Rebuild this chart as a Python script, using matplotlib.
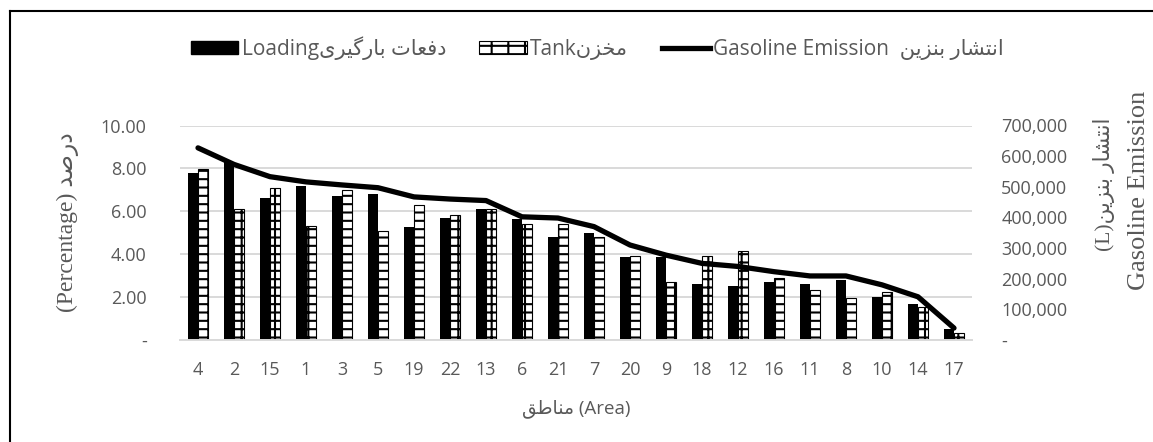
import numpy as np
import matplotlib
matplotlib.use('Agg')
import matplotlib.pyplot as plt
from matplotlib.patches import Patch
from matplotlib.lines import Line2D

plt.close('all')

# --- data ---
areas = ['4', '2', '15', '1', '3', '5', '19', '22', '13', '6', '21',
         '7', '20', '9', '18', '12', '16', '11', '8', '10', '14', '17']
loading = [7.8, 8.3, 6.6, 7.2, 6.7, 6.8, 5.25, 5.7, 6.1, 5.65, 4.8,
           5.0, 3.85, 3.85, 2.6, 2.5, 2.7, 2.6, 2.8, 2.0, 1.7, 0.5]
tank = [7.95, 6.1, 7.1, 5.3, 7.0, 5.1, 6.3, 5.85, 6.1, 5.4, 5.4,
        4.8, 3.9, 2.7, 3.9, 4.15, 2.9, 2.35, 1.95, 2.25, 1.55, 0.33]
emission = [627000, 573000, 533000, 516000, 506000, 497000, 467000, 460000,
            455000, 402000, 398000, 370000, 310000, 277000, 250000, 240000,
            223000, 209000, 209000, 180000, 141000, 39000]

left_ticks = [0, 2, 4, 6, 8, 10]
right_ticks = [0, 100000, 200000, 300000, 400000, 500000, 600000, 700000]

# --- minimal Arabic/Persian shaping (matplotlib does no shaping) ---
FORMS = {
    'ا': ('\uFE8D', '\uFE8E', None, None),
    'ب': ('\uFE8F', '\uFE90', '\uFE91', '\uFE92'),
    'ت': ('\uFE95', '\uFE96', '\uFE97', '\uFE98'),
    'خ': ('\uFEA5', '\uFEA6', '\uFEA7', '\uFEA8'),
    'د': ('\uFEA9', '\uFEAA', None, None),
    'ر': ('\uFEAD', '\uFEAE', None, None),
    'ز': ('\uFEAF', '\uFEB0', None, None),
    'ش': ('\uFEB5', '\uFEB6', '\uFEB7', '\uFEB8'),
    'ص': ('\uFEB9', '\uFEBA', '\uFEBB', '\uFEBC'),
    'ط': ('\uFEC1', '\uFEC2', '\uFEC3', '\uFEC4'),
    'ع': ('\uFEC9', '\uFECA', '\uFECB', '\uFECC'),
    'ف': ('\uFED1', '\uFED2', '\uFED3', '\uFED4'),
    'ق': ('\uFED5', '\uFED6', '\uFED7', '\uFED8'),
    'م': ('\uFEE1', '\uFEE2', '\uFEE3', '\uFEE4'),
    'ن': ('\uFEE5', '\uFEE6', '\uFEE7', '\uFEE8'),
    'گ': ('\uFB92', '\uFB93', '\uFB94', '\uFB95'),
    'ی': ('\uFBFC', '\uFBFD', '\uFBFE', '\uFBFF'),
}


def rtl(text):
    out = []
    for i, c in enumerate(text):
        f = FORMS.get(c)
        if f is None:
            out.append(c)
            continue
        prev = text[i - 1] if i > 0 else None
        nxt = text[i + 1] if i + 1 < len(text) else None
        jp = prev in FORMS and FORMS[prev][2] is not None
        jn = nxt in FORMS and f[2] is not None
        if jp and jn:
            g = f[3]
        elif jp:
            g = f[1]
        elif jn:
            g = f[2]
        else:
            g = f[0]
        out.append(g)
    return ''.join(reversed(out))


SANS = ['Open Sans', 'DejaVu Sans']
SERIF = ['Liberation Serif', 'DejaVu Sans']
GREY = '#595959'
plt.rcParams['font.family'] = SANS
plt.rcParams['hatch.linewidth'] = 1.5

fig = plt.figure(figsize=(11.53, 4.42), dpi=100)
ax = fig.add_axes([180 / 1153, 1 - 340 / 442, 792 / 1153, 214.5 / 442])
ax2 = ax.twinx()

x = np.arange(len(areas))
w = 0.28
ax.bar(x - w / 2, loading, w, color='black', zorder=2)
ax.bar(x + w / 2, tank, w, color='white', edgecolor='black', linewidth=0.8,
       hatch='+-', zorder=2)
ax2.plot(x, emission, color='black', lw=3.8, solid_capstyle='round', zorder=3)

ax.set_xlim(-0.5, len(areas) - 0.5)
ax.set_ylim(0, 10)
ax2.set_ylim(0, 700000)
ax.set_xticks(x)
ax.set_xticklabels(areas)
ax.set_yticks(left_ticks)
ax.set_yticklabels(['-' if v == 0 else f'{v:.2f}' for v in left_ticks])
ax2.set_yticks(right_ticks)
ax2.set_yticklabels(['-' if v == 0 else f'{v:,}' for v in right_ticks])

ax.grid(axis='y', color='#d9d9d9', lw=1.4, zorder=0)
ax.set_axisbelow(True)
for a in (ax, ax2):
    for s in a.spines.values():
        s.set_visible(False)
    a.tick_params(length=0, labelsize=13, colors=GREY)
ax.spines['bottom'].set_visible(True)
ax.spines['bottom'].set_color('#d9d9d9')
ax.spines['bottom'].set_linewidth(1.4)
ax.tick_params(axis='y', pad=24)
ax.tick_params(axis='x', pad=15)
ax2.tick_params(axis='y', pad=21)
ax.patch.set_visible(False)

ax.set_xlabel(rtl('مناطق') + ' (Area)', fontsize=13.5, color=GREY, labelpad=15)
fig.text(68 / 1153, 1 - 222 / 442, '(Percentage) ' + rtl('درصد'),
         rotation=90, ha='center', va='center', fontsize=17, color=GREY,
         family=SERIF)
fig.text(1104 / 1153, 1 - 184 / 442, '(L)' + rtl('انتشار بنزین'),
         rotation=90, ha='center', va='center', fontsize=15.5, color=GREY,
         family=SERIF)
fig.text(1139 / 1153, 1 - 190 / 442, 'Gasoline Emission',
         rotation=90, ha='center', va='center', fontsize=19, color=GREY,
         family=SERIF)

handles = [Patch(facecolor='black', edgecolor='black'),
           Patch(facecolor='white', edgecolor='black', linewidth=0.8, hatch='+-'),
           Line2D([], [], color='black', lw=3.8)]
labels = ['Loading' + rtl('دفعات بارگیری'),
          'Tank' + rtl('مخزن'),
          'Gasoline Emission  ' + rtl('انتشار بنزین')]
fig.legend(handles, labels, loc='center', bbox_to_anchor=(597 / 1153, 1 - 48 / 442),
           ncol=3, frameon=False, fontsize=15, labelcolor=GREY,
           handlelength=2.3, handleheight=0.55, columnspacing=1.6, handletextpad=0.15)

# outer frame (only left and top edges are visible in the crop)
fig.add_artist(Line2D([10 / 1153, 10 / 1153], [0, 1 - 11 / 442], color='black', lw=1.5))
fig.add_artist(Line2D([10 / 1153, 1], [1 - 11 / 442, 1 - 11 / 442], color='black', lw=1.5))

fig.savefig('out.png', dpi=100)
